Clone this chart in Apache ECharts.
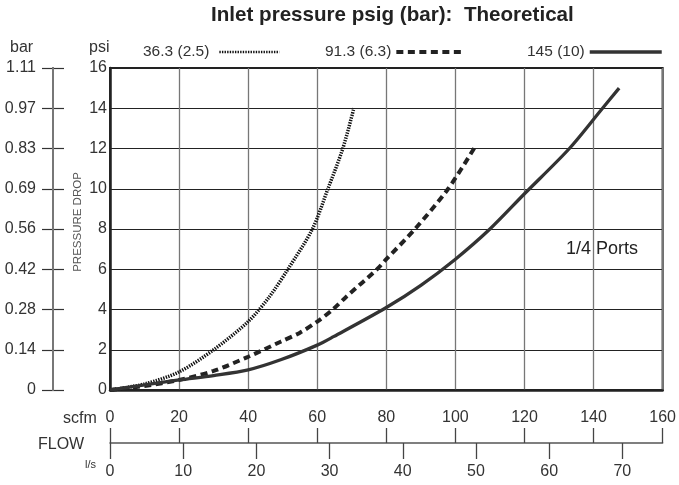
<!DOCTYPE html>
<html>
<head>
<meta charset="utf-8">
<script src="https://cdn.jsdelivr.net/npm/echarts@6/dist/echarts.min.js"></script>
<style>
  html, body { margin: 0; padding: 0; background: #fff; }
  #chart { width: 679px; height: 485px; }
</style>
</head>
<body>
<div id="chart"></div>
<script>
// ---- data (flow in scfm, pressure drop in psi) ----
const seriesNames = ['36.3 (2.5)', '91.3 (6.3)', '145 (10)'];
const p36 = [[0,0],[10,0.3],[20,0.9],[30,2.0],[40,3.4],[46,4.6],[51.5,6],[58.6,8],[63.1,10],[67.4,12],[70.6,14]];
const p91 = [[0,0],[10,0.2],[20,0.5],[30,0.95],[40,1.65],[49.4,2.4],[55,2.85],[60,3.4],[64.5,4.0],[68.2,4.6],[77.3,6],[80,6.5],[88.3,8],[97.9,10],[106.1,12.2]];
const p145 = [[0,0],[10,0.25],[20,0.5],[30,0.72],[40,1.0],[49.4,1.5],[60,2.23],[64.7,2.65],[80,4.1],[90,5.2],[100,6.5],[110,8.0],[120,9.75],[133,12],[142.6,14],[147.4,15]];
const barLabels = ['0','0.14','0.28','0.42','0.56','0.69','0.83','0.97','1.11'];
const lpsTicks = [0,10,20,30,40,50,60,70];
const psiMax = 16;
const scfmMax = 160;
const scfmPerLps = 2.11888;

const font = 'Liberation Sans, Arial, Helvetica, sans-serif';
const txt = '#333';

const chart = echarts.init(document.getElementById('chart'), null, {renderer: 'canvas'});
const legendCommon = {
  align: 'right', itemHeight: 10, padding: 0, top: 44,
  itemStyle: { opacity: 0 }
};
const option = {
  animation: false,
  backgroundColor: '#fff',
  textStyle: { fontFamily: font },
  title: {
    text: 'Inlet pressure psig (bar):  Theoretical',
    left: 211, top: 5, padding: 0,
    textStyle: { fontSize: 20.6, fontWeight: 'bold', color: '#222', fontFamily: font }
  },
  legend: [
    Object.assign({}, legendCommon, { data: [seriesNames[0]], left: 143, itemWidth: 60,
      lineStyle: { width: 2.5 }, textStyle: { fontSize: 15.5, color: txt, fontFamily: font, padding: [0, 5, 0, 0] } }),
    Object.assign({}, legendCommon, { data: [seriesNames[1]], left: 325, itemWidth: 65,
      lineStyle: { width: 4 }, textStyle: { fontSize: 15.5, color: txt, fontFamily: font } }),
    Object.assign({}, legendCommon, { data: [seriesNames[2]], left: 527, itemWidth: 72,
      lineStyle: { width: 3.5 }, textStyle: { fontSize: 15.5, color: txt, fontFamily: font } })
  ],
  grid: [
    { left: 110, right: 14, top: 68, bottom: 95, show: true, borderColor: '#222', borderWidth: 2 },
    { left: 42, width: 22, top: 68, bottom: 95, show: false }
  ],
  xAxis: [
    { type: 'value', gridIndex: 0, position: 'bottom', offset: 53, min: 0, max: scfmMax, interval: 20,
      axisLine: { show: true, onZero: false, lineStyle: { color: '#555', width: 1.5 } },
      axisTick: { show: true, inside: true, length: 15, lineStyle: { color: '#444', width: 1.3 } },
      axisLabel: { inside: true, margin: 17, fontSize: 16, color: txt, fontFamily: font },
      splitLine: { show: true, lineStyle: { color: '#777', width: 1.3 } } },
    { type: 'value', gridIndex: 0, position: 'bottom', offset: 53, min: 0, max: scfmMax / scfmPerLps,
      axisLine: { show: false, onZero: false },
      axisTick: { show: true, length: 16, customValues: lpsTicks, lineStyle: { color: '#444', width: 1.3 } },
      axisLabel: { customValues: lpsTicks, margin: 21, fontSize: 16, color: txt, fontFamily: font },
      splitLine: { show: false } },
    { type: 'value', gridIndex: 0, position: 'bottom', offset: 0, min: 0, max: scfmMax,
      axisLine: { show: true, onZero: false, lineStyle: { color: '#222', width: 2.5 } },
      axisTick: { show: false }, axisLabel: { show: false }, splitLine: { show: false } },
    { type: 'value', gridIndex: 1, min: 0, max: 2, interval: 1, show: false }
  ],
  yAxis: [
    { type: 'value', gridIndex: 0, position: 'left', min: 0, max: psiMax, interval: 2,
      axisLine: { show: true, onZero: false, lineStyle: { color: '#222', width: 2.5 } },
      axisTick: { show: false },
      axisLabel: { margin: 3, fontSize: 16, color: txt, fontFamily: font },
      splitLine: { show: true, lineStyle: { color: '#222', width: 1 } } },
    { type: 'value', gridIndex: 1, position: 'left', min: 0, max: psiMax, interval: 2,
      axisLine: { show: false, onZero: false },
      axisTick: { show: false },
      axisLabel: { margin: 6, fontSize: 16, color: txt, fontFamily: font,
        formatter: v => barLabels[Math.round(v / 2)] },
      splitLine: { show: true, showMinLine: true, showMaxLine: true, lineStyle: { color: '#333', width: 1.2 } } }
  ],
  series: [
    { name: seriesNames[0], type: 'line', data: p36, xAxisIndex: 0, yAxisIndex: 0,
      symbol: 'none', smooth: 0.3, itemStyle: { color: '#111' },
      lineStyle: { color: '#111', width: 3.5, type: [1.4, 1.2], cap: 'butt' } },
    { name: seriesNames[1], type: 'line', data: p91, xAxisIndex: 0, yAxisIndex: 0,
      symbol: 'none', smooth: 0.3, itemStyle: { color: '#222' },
      lineStyle: { color: '#222', width: 4, type: [7, 4.5], cap: 'butt' } },
    { name: seriesNames[2], type: 'line', data: p145, xAxisIndex: 0, yAxisIndex: 0,
      symbol: 'none', smooth: 0.3, itemStyle: { color: '#333' },
      lineStyle: { color: '#333', width: 3.3, type: 'solid' } }
  ],
  graphic: [
    { id: 'tBar', type: 'text', left: 10, top: 40, style: { text: 'bar', fontSize: 16, fill: txt, fontFamily: font } },
    { id: 'tPsi', type: 'text', left: 89, top: 40, style: { text: 'psi', fontSize: 16, fill: txt, fontFamily: font } },
    { id: 'tScfm', type: 'text', left: 63, top: 411, style: { text: 'scfm', fontSize: 16, fill: txt, fontFamily: font } },
    { id: 'tFlow', type: 'text', left: 38, top: 437, style: { text: 'FLOW', fontSize: 16, fill: txt, fontFamily: font } },
    { id: 'tLs', type: 'text', left: 85, top: 459, style: { text: 'l/s', fontSize: 11, fill: txt, fontFamily: font } },
    { id: 'tPorts', type: 'text', left: 566, top: 240, style: { text: '1/4 Ports', fontSize: 18, fill: '#222', fontFamily: font } },
    { id: 'tDrop', type: 'text', x: 78, y: 222, rotation: Math.PI / 2,
      style: { text: 'PRESSURE DROP', fontSize: 11.5, fill: '#555', fontFamily: font, align: 'center', verticalAlign: 'middle' } },
    { id: 'barSpine', type: 'rect', left: 52, top: 67, z: 100, zlevel: 1,
      shape: { x: 0, y: 0, width: 2, height: 485 - 67 - 94 },
      style: { fill: '#777' } }
  ]
};
chart.setOption(option);
</script>
</body>
</html>
